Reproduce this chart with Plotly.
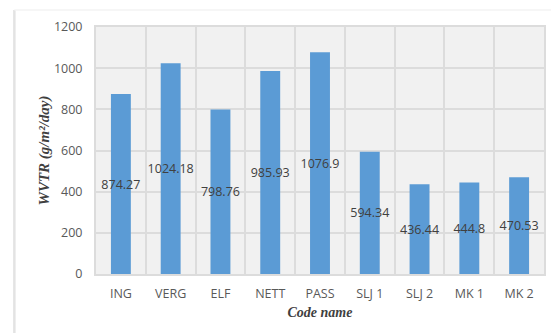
import plotly.graph_objects as go

# Water vapour transmission rate per coating code
codes = ["ING", "VERG", "ELF", "NETT", "PASS", "SLJ 1", "SLJ 2", "MK 1", "MK 2"]
wvtr = [874.27, 1024.18, 798.76, 985.93, 1076.9, 594.34, 436.44, 444.8, 470.53]
y_ticks = [0, 200, 400, 600, 800, 1000, 1200]

W, H = 553, 333
ml, mr, mt, mb = 96, 7, 27, 59
pw, ph = W - ml - mr, H - mt - mb

fig = go.Figure(
    go.Bar(
        x=codes,
        y=wvtr,
        width=0.4,
        marker=dict(color="#5b9bd5", line=dict(width=0)),
        text=[f"{v:g}" for v in wvtr],
        textposition="inside",
        insidetextanchor="middle",
        textangle=0,
        constraintext="none",
        textfont=dict(family="Open Sans", size=12.5, color="#404040"),
        cliponaxis=False,
    )
)

grid = "#dcdcdc"
fig.update_xaxes(
    tickson="boundaries",
    showgrid=True,
    gridcolor=grid,
    gridwidth=2,
    showline=True,
    linecolor=grid,
    linewidth=2,
    mirror=True,
    ticks="",
    ticklabelstandoff=7,
    tickfont=dict(family="Open Sans", size=12.5, color="#595959"),
    title=dict(
        text="<b><i>Code name</i></b>",
        font=dict(family="Liberation Serif", size=14, color="#404040"),
        standoff=6,
    ),
)
fig.update_yaxes(
    range=[0, 1200],
    tickvals=y_ticks,
    showgrid=True,
    gridcolor=grid,
    gridwidth=2,
    showline=True,
    linecolor=grid,
    linewidth=2,
    mirror=True,
    zeroline=False,
    ticks="",
    ticklabelstandoff=9,
    tickfont=dict(family="Open Sans", size=12.5, color="#595959"),
    title=dict(
        text="<b><i>WVTR (g/m²/day)</i></b>",
        font=dict(family="Liberation Serif", size=15, color="#404040"),
        standoff=1,
    ),
)

# outer chart frame: left edge and faint top edge
x_left = (14 - ml) / pw
y_top = 1 + (mt - 10) / ph
y_bot = -(mb) / ph
shapes = [
    dict(type="line", xref="paper", yref="paper", x0=x_left, x1=x_left,
         y0=y_bot, y1=y_top, line=dict(color="#e3e3e3", width=2.5)),
    dict(type="line", xref="paper", yref="paper", x0=x_left, x1=1 + (mr) / pw,
         y0=y_top, y1=y_top, line=dict(color="#f3f3f3", width=1.5)),
]

fig.update_layout(
    width=W,
    height=H,
    margin=dict(l=ml, r=mr, t=mt, b=mb),
    paper_bgcolor="white",
    plot_bgcolor="#f1f1f1",
    showlegend=False,
    bargap=0.6,
    shapes=shapes,
)

fig.write_html("out.html")
